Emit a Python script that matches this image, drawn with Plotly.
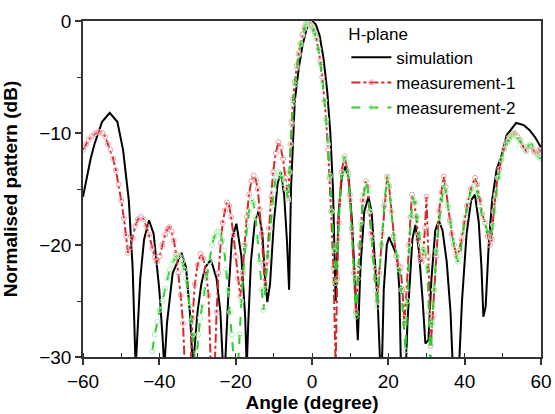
"""
H-plane radiation pattern: simulation vs two measurements.
"""

import plotly.graph_objects as go

# simulation (black solid)
sim_angle = [-60, -58, -57, -55, -53, -51, -49.5, -48, -47, -46.2, -45.6, -45, -44, -42.7,
             -41.5, -40, -39.2, -38.7, -38, -36.5, -34.2, -33, -32, -31.6, -31.2, -30, -29, -28,
             -26.5, -25, -24, -23.3, -22.8, -22, -21, -19.8, -18.5, -17.5, -17.1, -16.7, -16, -15,
             -14, -13, -12.3, -11.7, -11, -10, -9, -8.2, -7.3, -6.5, -6, -5.5, -5, -4.5, -3.5, -2.5,
             -1.5, -0.5, 0, 1, 2, 3, 4, 4.8, 5.5, 6.2, 7, 7.8, 8.7, 9.6, 10.5, 11.3, 12, 12.7,
             13.7, 14.8, 15.6, 16.3, 17.2, 17.9, 18.3, 18.8, 19.6, 20.2, 21.3, 22.3, 22.9, 23.3,
             24.6, 25, 25.5, 26.3, 27.1, 28, 29, 29.7, 30.5, 31.3, 32.3, 33.2, 34.2, 35.3, 36.3,
             36.9, 38.5, 39.3, 40.5, 41.7, 42.7, 43.7, 44.4, 44.9, 45.5, 46.3, 47.2, 48.4, 49.6,
             51, 53.5, 55.5, 57, 58.5, 60]
sim_db = [-15.7, -12.3, -11.0, -9.0, -8.2, -9.0, -11.5, -16, -22, -31, -27, -23, -19.5, -17.8,
          -19, -24, -28, -31, -27, -22.5, -20.7, -22, -26, -28.5, -31, -26, -23.5, -22,
          -21.3, -23, -26, -31, -31, -25, -19.5, -18.1, -21, -26.5, -31, -27, -21.5, -18,
          -17.0, -19, -23, -25.1, -23.5, -18, -14.5, -13.5, -15.5, -20, -24, -15, -10.5, -7.1,
          -4.3, -2.2, -0.8, -0.05, 0, -0.3, -1.3, -3.3, -6.3, -10, -15, -25, -17, -14, -13.0,
          -14, -18, -23.5, -28.5, -22, -17, -15.7, -17, -20.5, -25, -31, -31, -24, -20, -19.3,
          -20.2, -21, -24, -31, -31, -27, -24, -19.5, -18.2, -20.5, -25, -28.8, -28.5, -23,
          -18.7, -17.8, -18.7, -21.5, -26, -31, -31, -25, -19, -16, -15.5, -18, -22, -26.4,
          -25.5, -20, -16, -13.2, -12.1, -10.2, -9.1, -9.3, -9.75, -10.4, -11.3]

# measurement-1 (red dash-dot, pink open circles)
m1_angle = [-60, -59.2, -58.5, -57.7, -57, -56.3, -55.6, -54.9, -54.2, -53.5, -52.8, -52.1,
            -51.4, -50.7, -50, -49.3, -48.7, -48.2, -47.6, -47, -46.3, -45.6, -44.8, -44.1,
            -43.4, -42.7, -41.9, -41.2, -40.6, -39.9, -39.2, -38.5, -37.9, -37.4, -36.8, -36.2,
            -35.6, -35, -34.4, -33.8, -33.3, -31.8, -31.3, -30.7, -30, -29.2, -28.5, -27.8,
            -27.1, -26.5, -25.5, -25, -24.5, -23.9, -23.4, -22.8, -22.3, -21.7, -21.2, -20.6,
            -20, -19.4, -18.8, -18.2, -17.7, -17.1, -16.5, -15.9, -15.3, -14.7, -14.2, -13.7,
            -13.2, -12.7, -12.3, -11.8, -11.3, -10.7, -10.2, -9.5, -8.8, -8.2, -7.6, -6.9, -6.3,
            -5.9, -5.6, -5.3, -5, -4.5, -4, -3.5, -3, -2.5, -2, -1.6, -1.2, -0.7, -0.3, 0.2,
            0.7, 1.2, 1.7, 2.2, 2.7, 3.3, 3.7, 4.2, 4.6, 5, 5.6, 6.2, 6.6, 7, 7.7, 8.5, 9.4,
            9.9, 10.4, 11, 11.5, 12, 12.5, 13.3, 14.1, 14.6, 15, 15.5, 16.1, 16.6, 17.1, 17.6,
            18.2, 18.9, 19.7, 20.2, 20.8, 21.4, 22, 22.6, 23.2, 23.7, 24.2, 24.8, 25.3, 25.8,
            26.2, 26.8, 27.3, 27.8, 28.3, 28.7, 29.1, 29.6, 30, 30.5, 31.1, 31.6, 32, 32.6,
            33.3, 33.9, 34.5, 35, 35.6, 36.1, 36.6, 37.2, 37.9, 38.5, 39.2, 39.9, 40.6, 41.6,
            42.7, 43.3, 44, 44.6, 45.3, 46, 46.6, 47.1, 47.6, 48.1, 48.6, 49.1, 49.6, 50.3, 51,
            51.6, 52.2, 52.7, 53.1, 53.8, 54.5, 55.3, 56.1, 56.8, 57.5, 58.2, 59, 59.5, 60]
m1_db = [-11.5, -11.0, -10.6, -10.3, -10.1, -9.95, -9.9, -10.0, -10.3, -11.0, -11.5, -12.3,
         -13.3, -14.6, -16, -17.6, -19.2, -20.7, -20.2, -19.4, -18.3, -17.7, -17.5, -17.7,
         -18.3, -19.1, -20.3, -21.1, -21.5, -21.0, -20.0, -19.1, -18.6, -18.4, -18.8, -19.6,
         -20.8, -22.5, -24.5, -27, -31, -31, -26.5, -23.5, -21.8, -20.8, -21.2, -22.4,
         -24.5, -31, -31, -26, -22.5, -19.8, -18, -16.9, -16.2, -16.5, -17.5, -19.1,
         -21, -23, -24.6, -22.5, -20, -17.5, -15.5, -14.3, -13.8, -14.2, -15, -16.8,
         -19, -21.8, -24, -21.5, -18.5, -15.7, -13.5, -11.8, -10.8, -11.3, -12.3, -14, -15.8,
         -13.5, -11, -9, -7, -5.4, -4, -2.9, -2, -1.2, -0.6, -0.3, -0.1, -0.15, -0.3, -0.6,
         -1.0, -1.6, -2.5, -3.6, -5, -7.1, -8.8, -11.5, -14, -17, -22, -31, -23, -18, -13.5,
         -12.1, -13.5, -15.5, -18.5, -22.5, -26, -23, -20, -16, -14.3, -14.8, -17, -19, -21,
         -23, -25, -22.5, -20, -16.5, -13.9, -14.8, -17, -19.2, -21, -21.8, -22, -24, -27,
         -24, -20, -17.5, -15.5, -16.2, -17.5, -19.5, -21, -21.5, -21, -18.5, -15.7, -21, -29,
         -26.5, -24, -21, -17, -15.3, -13.9, -14.8, -16.5, -17.8, -19, -20, -21, -20.5,
         -19.5, -18, -16.5, -15, -14.0, -14.6, -16, -17.2, -18, -19.2, -20, -19.5, -17, -15.5,
         -14, -13.2, -12.4, -11.4, -10.8, -10.4, -10.2, -10.1, -10.0, -10.3, -10.6, -11.2,
         -11.6, -11.2, -11.2, -11.7, -11.8, -11.5, -11.7]

# measurement-2 (green dashed, light green open circles)
m2_angle = [-42.5, -41.9, -41.2, -40.5, -39.9, -39.2, -38.5, -37.9, -37.3, -36.7, -36.1,
            -35.6, -35, -34.4, -34, -33.5, -33, -32.5, -32, -31.6, -31.2, -30.5, -29.8, -29.3,
            -28.8, -28.2, -27.6, -26.9, -26.2, -25.6, -25, -24.5, -24, -23.5, -23, -22.5, -22,
            -21.5, -21, -20.3, -19.4, -19, -18.5, -18, -17.5, -17, -16.5, -15.8, -15.3, -14.8,
            -14.3, -13.8, -13.2, -12.7, -12.2, -11.6, -11, -10.5, -10, -9.5, -8.8, -8.3, -7.8,
            -7.3, -6.8, -6.2, -5.9, -5.6, -5.3, -5, -4.5, -4, -3.5, -3, -2.5, -2, -1.5, -1.1,
            -0.7, -0.2, 0.3, 0.8, 1.2, 1.7, 2.2, 2.8, 3.3, 3.7, 4.2, 4.7, 5.2, 5.8, 6.3, 6.8,
            7.3, 7.9, 8.5, 9, 9.5, 10, 10.5, 11, 11.5, 12.1, 12.8, 13.5, 14.1, 14.7, 15.2,
            15.7, 16.2, 16.7, 17.1, 17.7, 18.4, 19, 19.7, 20.2, 20.8, 21.5, 22.3, 22.9, 23.4,
            24, 24.5, 25, 25.5, 26, 26.4, 27, 27.5, 28, 28.5, 29, 29.5, 29.9, 30.2, 30.6, 31,
            31.5, 32, 32.6, 33.3, 33.9, 34.5, 35, 35.6, 36.2, 36.8, 37.5, 38.2, 38.8, 39.5,
            40.2, 41, 41.8, 42.7, 43.3, 44, 44.6, 45.3, 46, 46.8, 47.4, 48, 48.8, 49.6, 50.3,
            51, 51.5, 52, 52.6, 53.1, 53.8, 54.6, 55.3, 56.1, 56.8, 57.5, 58.2, 59, 59.5, 60]
m2_db = [-31, -29.5, -28, -26.8, -25.8, -25, -23.9, -23, -22.2, -21.7, -21.3, -21.0, -20.9,
         -21.1, -21.5, -22.2, -23, -24.2, -25.5, -26.8, -28, -31, -28, -26.5, -25.5, -24.2,
         -23, -21.5, -20, -19.3, -18.8, -18.8, -19, -19.6, -20.5, -22.2, -24, -26, -28, -31,
         -31, -28, -25, -22.5, -20, -18.3, -17, -16, -16.3, -17.5, -19.3, -21.5, -24, -25.8,
         -23.5, -21, -18.5, -16.5, -15.1, -14, -13.5, -13.6, -14, -14.5, -15, -16, -13.5, -11,
         -9.2, -7.4, -5.7, -4.2, -3, -2.1, -1.3, -0.7, -0.2, -0.1, -0.3, -0.5, -0.8, -1.2,
         -1.6, -2.5, -3.8, -5.4, -7.1, -8.8, -11, -13.8, -17, -20.5, -23.4, -19.5, -16, -13.5,
         -12.1, -12.6, -13.8, -16, -19, -22.5, -26.4, -22, -18, -15.5, -14.3, -15.2, -17,
         -19.5, -22, -24, -25.5, -22.5, -19, -16, -14, -14.7, -17, -19.5, -21, -22.2, -24,
         -26.5, -29.4, -25, -20, -17.5, -15.8, -16.2, -17.5, -19, -20, -20.5, -20.5, -21,
         -22, -26, -31, -27, -24, -20.5, -18, -16, -14.6, -15.2, -16.5, -18, -19.5, -20.7,
         -21.5, -21, -19, -17.5, -16, -15, -14.7, -15.3, -16.5, -17.5, -18, -18.8, -19.3, -18.2,
         -16, -14, -12.4, -11.5, -11, -10.7, -10.4, -10.2, -10.1, -10.4, -10.8, -11.2, -11.5,
         -11.1, -11, -11.5, -12, -12.2, -12.3]

fig = go.Figure()

fig.add_trace(go.Scatter(
    x=sim_angle, y=sim_db, name="simulation", mode="lines",
    line=dict(color="black", width=2)))

fig.add_trace(go.Scatter(
    x=m1_angle, y=m1_db, name="measurement-1", mode="lines+markers",
    line=dict(color="#d42a2a", width=2, dash="dashdot"),
    marker=dict(symbol="circle-open", size=5, color="#f0a0a8", line=dict(width=1))))

fig.add_trace(go.Scatter(
    x=m2_angle, y=m2_db, name="measurement-2", mode="lines+markers",
    line=dict(color="#2ecc2e", width=2, dash="dash"),
    marker=dict(symbol="circle-open", size=5, color="#b0f0b0", line=dict(width=1))))

axis_font = dict(family="Liberation Sans, Arial, sans-serif", size=19, color="black")
title_font = dict(family="Liberation Sans, Arial, sans-serif", size=19, color="black")

fig.update_xaxes(
    range=[-60, 60], dtick=20, tick0=-60,
    showline=True, linecolor="#333", linewidth=1.5, mirror=True,
    ticks="outside", ticklen=6, tickcolor="#333", tickwidth=1.5,
    minor=dict(dtick=10, ticks="inside", ticklen=4, tickcolor="#333", tickwidth=1.2),
    showgrid=False, zeroline=False, tickfont=axis_font, automargin=False,
    title=dict(text="<b>Angle (degree)</b>", font=title_font, standoff=1))

fig.update_yaxes(
    range=[-30, 0], dtick=10,
    showline=True, linecolor="#333", linewidth=1.5, mirror=True,
    ticks="outside", ticklen=6, tickcolor="#333", tickwidth=1.5,
    minor=dict(dtick=5, ticks="outside", ticklen=4, tickcolor="#333", tickwidth=1.2),
    showgrid=False, zeroline=False, tickfont=axis_font, automargin=False,
    title=dict(text="<b>Normalised pattern (dB)</b>", font=title_font, standoff=20))

fig.update_layout(
    width=555, height=414,
    margin=dict(l=83, r=14, t=21, b=57, autoexpand=False),
    paper_bgcolor="white", plot_bgcolor="white",
    font=dict(family="Liberation Sans, Arial, sans-serif", color="black"),
    legend=dict(
        x=0.575, y=1.01, xanchor="left", yanchor="top",
        bgcolor="rgba(0,0,0,0)", borderwidth=0,
        title=dict(text="H-plane", font=dict(size=17)),
        font=dict(size=17), tracegroupgap=0, itemwidth=40),
)

# drop the page's default body margin so the figure sits at the window's corner
fig.write_html("out.html", config={"displayModeBar": False},
               post_script="document.body.style.margin='0';")
